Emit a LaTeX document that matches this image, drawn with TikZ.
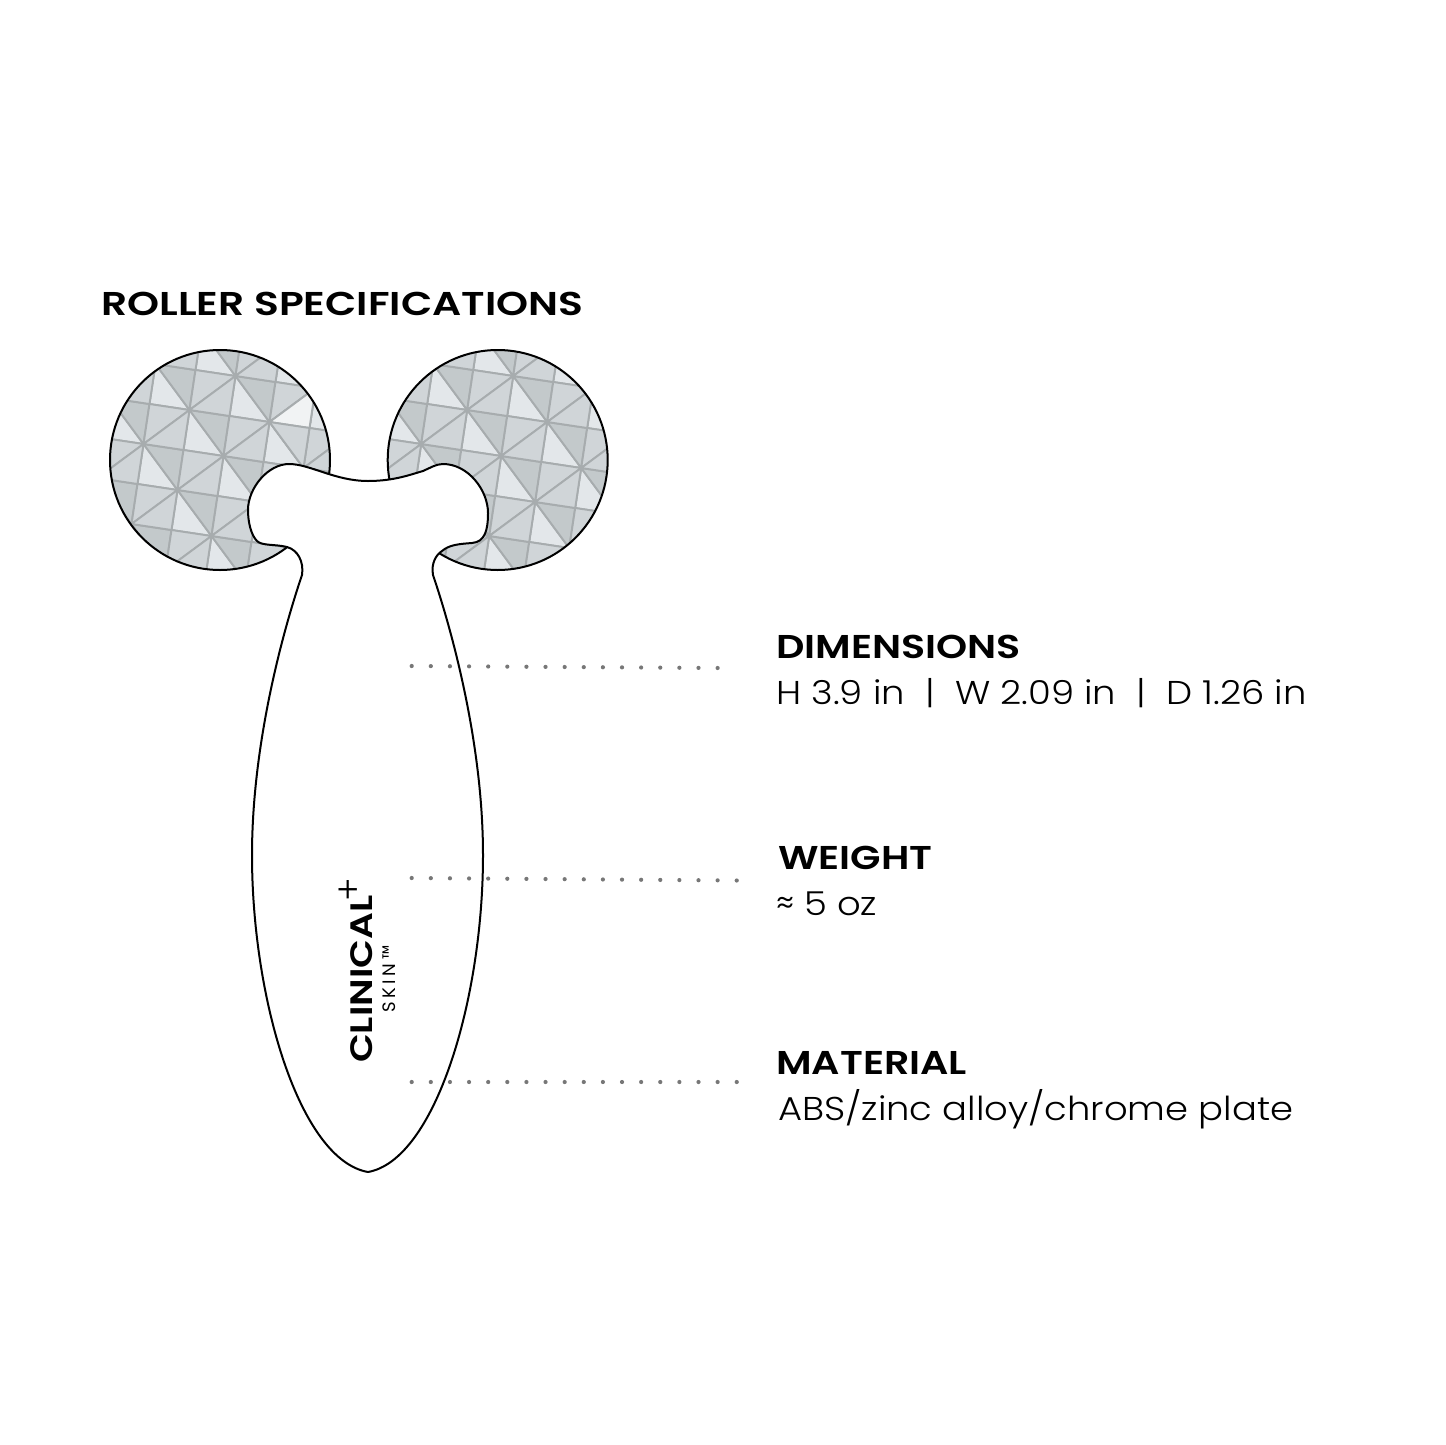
\documentclass[tikz,border=0pt]{standalone}
\usepackage{fontspec}
\setmainfont{Poppins}[UprightFont={* Light}]
\newfontfamily\titlefont{Poppins}[BoldFont={* SemiBold}, FakeStretch=1.235]
\newfontfamily\headfont{Poppins}[BoldFont={* SemiBold}, FakeStretch=1.2]
\newfontfamily\logofont{Poppins}[BoldFont={* SemiBold}, FakeStretch=1.21]
\newfontfamily\detailfont{Poppins}[UprightFont={* Light}, FakeStretch=1.12]
\newfontfamily\skinfont{Poppins}[LetterSpace=20]

\definecolor{facetdark}{HTML}{C3C9CB}
\definecolor{facetmid}{HTML}{D0D5D8}
\definecolor{facetlight}{HTML}{E3E7EA}
\definecolor{facetwhite}{HTML}{F1F3F4}
\definecolor{facetline}{HTML}{A7ACAE}
\definecolor{dotgray}{HTML}{777777}

\tikzset{
  facet/.style={draw=facetline, line width=1.9pt, line join=round},
  rollerhead/.style={circle, draw, line width=2pt, inner sep=0pt, minimum size=220pt},
  dotrow/.style={draw=dotgray, line width=4.2pt, line cap=round, dash pattern=on 0pt off 19.12pt},
  heading/.style={anchor=base west, inner sep=0pt, font=\fontsize{33}{40}\headfont\bfseries},
  detail/.style={anchor=base west, inner sep=0pt, font=\fontsize{33}{40}\detailfont},
}

\newcommand{\facets}[3]{
  \begin{scope}
    \clip (#1,#2) circle [radius=110];
    \begin{scope}[shift={(#1+3.5,#2-4)}, x={(46pt,34pt)}, y={(34pt,-46pt)}]
      \foreach \i in {-3,...,3} {
        \foreach \j in {-3,...,3} {
          \filldraw[facet, fill=facetdark] (\i,\j) -- (\i,\j+1) -- (\i+.5,\j+.5) -- cycle;
          \filldraw[facet, fill=facetlight] (\i+1,\j) -- (\i+1,\j+1) -- (\i+.5,\j+.5) -- cycle;
          \filldraw[facet, fill=facetmid] (\i,\j) -- (\i+1,\j) -- (\i+.5,\j+.5) -- cycle;
          \filldraw[facet, fill=facetmid] (\i,\j+1) -- (\i+1,\j+1) -- (\i+.5,\j+.5) -- cycle;
        }
      }
      #3
    \end{scope}
  \end{scope}
}

\begin{document}
\begin{tikzpicture}[x=1pt, y=-1pt]
  \useasboundingbox (0,0) rectangle (1445,1445);

  % heads %
  \facets{220}{460}{
    \filldraw[facet, fill=facetwhite] (1,0) -- (2,0) -- (1.5,.5) -- cycle;
    \filldraw[facet, fill=facetmid] (1,0) -- (1,1) -- (1.5,.5) -- cycle;
  }
  \facets{497.7}{460}{}
  \node[rollerhead] (lefthead) at (220,460) {};
  \node[rollerhead] (righthead) at (497.7,460) {};

  % body %
  \draw[fill=white, line width=2pt, line join=round] (368,481)
    .. controls (395,481) and (412,474) .. (423,471)
    .. controls (430,468) and (436,464) .. (443,464)
    .. controls (468,464) and (488,490) .. (488,513)
    .. controls (488,530) and (485,542) .. (472,543)
    .. controls (458,544) and (449,545) .. (442,551)
    .. controls (436,555) and (431,563) .. (433,575)
    .. controls (450,625) and (483,740) .. (483,855)
    .. controls (483,1000) and (435,1160) .. (368,1172)
    .. controls (300,1160) and (252,1000) .. (252,855)
    .. controls (252,740) and (285,625) .. (302,575)
    .. controls (304,562) and (298,550) .. (287,547)
    .. controls (275,544) and (262,546) .. (257,541)
    .. controls (251,535) and (248,522) .. (248,510)
    .. controls (248,488) and (268,464) .. (289,464)
    .. controls (310,464) and (335,481) .. (368,481) -- cycle;

  % logo %
  \node[anchor=base west, inner sep=0pt, rotate=90, font=\fontsize{31}{36}\logofont\bfseries] (logo) at (372,1063) {CLINICAL};
  \node[inner sep=0pt, rotate=90, font=\fontsize{36}{36}\selectfont] (logoplus) at (350,890) {+};
  \node[anchor=base west, inner sep=0pt, rotate=90, font=\fontsize{18}{20}\skinfont] (logoskin) at (395,1013) {SKIN™};

  % text %
  \node[anchor=base west, inner sep=0pt, font=\fontsize{33}{40}\titlefont\bfseries] (title) at (101,315) {ROLLER SPECIFICATIONS};
  \node[heading] (dimhead) at (776,658) {DIMENSIONS};
  \node[detail] (dimtext) at (776,704) {H 3.9 in\ \ |\ \ W 2.09 in\ \ |\ \ D 1.26 in};
  \node[heading] (weighthead) at (778,869) {WEIGHT};
  \node[detail] (weighttext) at (776,915) {≈ 5 oz};
  \node[heading] (mathead) at (776,1074) {MATERIAL};
  \node[detail] (mattext) at (778,1120) {ABS/zinc alloy/chrome plate};

  % dots %
  \coordinate (dimstart) at (411.7,666);
  \coordinate (dimend) at (718,668);
  \coordinate (weightstart) at (411.7,878);
  \coordinate (weightend) at (737.5,880.5);
  \coordinate (matstart) at (411.7,1082);
  \coordinate (matend) at (737.5,1082);
  \draw[dotrow] (dimstart) -- (dimend);
  \draw[dotrow] (weightstart) -- (weightend);
  \draw[dotrow] (matstart) -- (matend);
\end{tikzpicture}
\end{document}
